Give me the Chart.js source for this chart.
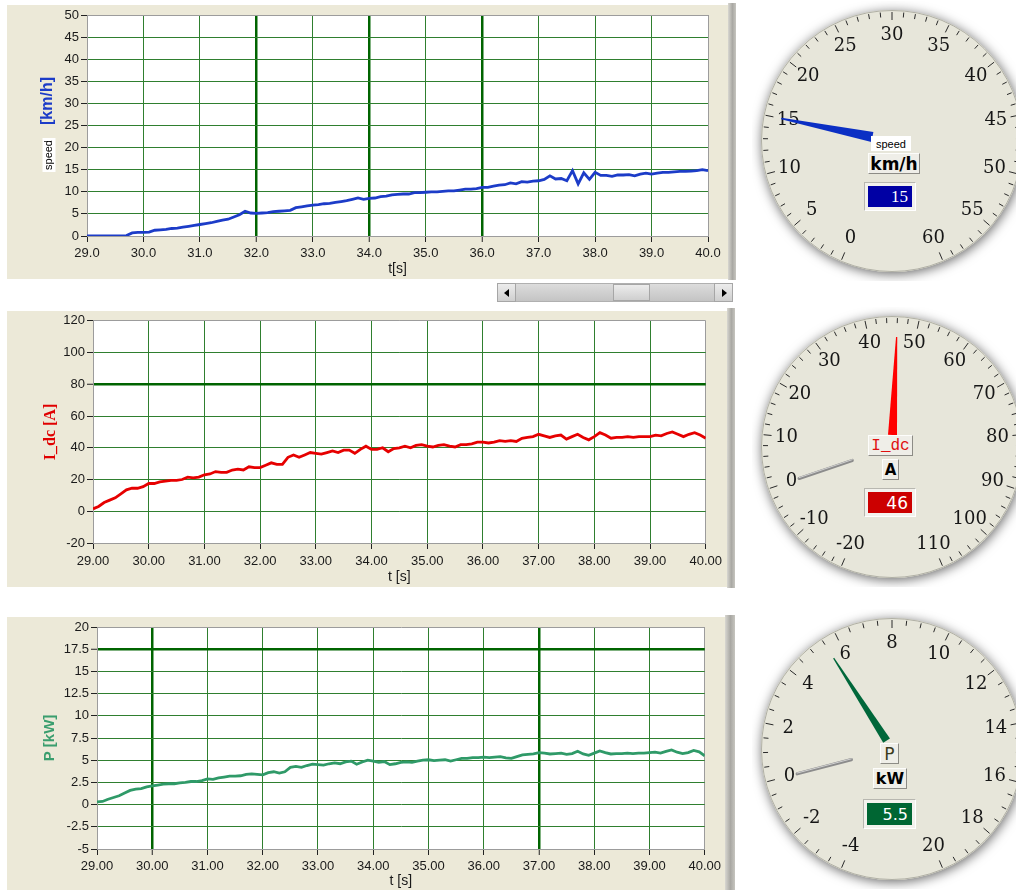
<!DOCTYPE html>
<html>
<head>
<meta charset="utf-8">
<title>Speed, current and power</title>
<script src="https://cdn.jsdelivr.net/npm/chart.js@4.4.1/dist/chart.umd.min.js"></script>
<style>
html,body{margin:0;padding:0;background:#fff;overflow:hidden;}
body{position:relative;width:1016px;height:890px;}
.abs{position:absolute;box-sizing:border-box;}
.panel{background:#ECE9D8;}
.strip{background:linear-gradient(to right,#d8d7d1,#a9a8a3 55%,#c6c5bf);}
canvas{position:absolute;}
.lbl{position:absolute;box-sizing:border-box;display:flex;align-items:center;justify-content:center;background:#EFEEE8;border:1px solid;border-color:#fdfdfb #8d8c86 #8d8c86 #fdfdfb;color:#000;line-height:1;}
.valout{position:absolute;box-sizing:border-box;background:#f3f2ed;border:1px solid;border-color:#b8b7b0 #fff #fff #b8b7b0;}
.valin{position:absolute;left:3px;top:3px;right:3px;bottom:3px;color:#fff;padding-right:4px;display:flex;align-items:center;justify-content:flex-end;line-height:1;}
.sbtn{background:linear-gradient(#ececec,#cfcfcf);border:1px solid #a6a6a6;}
</style>
</head>
<body>
<!-- panels -->
<div class="abs panel" style="left:7px;top:5px;width:721px;height:274px"></div>
<div class="abs strip" style="left:728px;top:3px;width:8px;height:277px"></div>
<div class="abs panel" style="left:7px;top:311px;width:720px;height:276px"></div>
<div class="abs strip" style="left:727px;top:308px;width:8px;height:280px"></div>
<div class="abs panel" style="left:7px;top:617px;width:718px;height:273px"></div>
<div class="abs strip" style="left:725px;top:615px;width:10px;height:275px"></div>

<!-- scrollbar -->
<div class="abs" style="left:497px;top:283px;width:236px;height:19px;background:linear-gradient(#dcdcdc,#c4c4c4);border:1px solid #b0b0b0"></div>
<div class="abs sbtn" style="left:497px;top:283px;width:19px;height:19px"><div class="abs" style="left:6px;top:5px;width:0;height:0;border-top:4px solid transparent;border-bottom:4px solid transparent;border-right:5px solid #000"></div></div>
<div class="abs sbtn" style="left:613px;top:284px;width:37px;height:17px"></div>
<div class="abs sbtn" style="left:714px;top:283px;width:19px;height:19px"><div class="abs" style="left:7px;top:5px;width:0;height:0;border-top:4px solid transparent;border-bottom:4px solid transparent;border-left:5px solid #000"></div></div>

<canvas id="c1" width="721" height="274" style="left:7px;top:5px"></canvas>
<canvas id="c2" width="720" height="276" style="left:7px;top:311px"></canvas>
<canvas id="c3" width="718" height="273" style="left:7px;top:617px"></canvas>

<canvas id="g1" width="280" height="280" style="left:752px;top:1px"></canvas>
<canvas id="g2" width="280" height="280" style="left:752px;top:307px"></canvas>
<canvas id="g3" width="280" height="280" style="left:752px;top:609px"></canvas>

<!-- gauge centre boxes -->
<div class="abs" id="g1name" style="left:871px;top:136px;width:40px;height:15px;background:#fff;font:11px 'Liberation Sans';display:flex;align-items:center;justify-content:center;color:#000"></div>
<div class="lbl" id="g1unit" style="left:868px;top:153px;width:52px;height:21px;font:bold 17px 'DejaVu Sans'"></div>
<div class="valout" style="left:864px;top:182px;width:52px;height:29px"><div class="valin" id="g1val" style="background:#0000a4;font:17px 'Liberation Serif'"></div></div>

<div class="lbl" id="g2name" style="left:868px;top:435px;width:45px;height:21px;font:16px 'Liberation Mono';color:#e01010"></div>
<div class="lbl" id="g2unit" style="left:882px;top:459px;width:17px;height:21px;font:bold 15px 'DejaVu Sans'"></div>
<div class="valout" style="left:864px;top:488px;width:52px;height:29px"><div class="valin" id="g2val" style="background:#cc0000;font:17px 'DejaVu Sans'"></div></div>

<div class="lbl" id="g3name" style="left:880px;top:743px;width:19px;height:21px;font:17px 'DejaVu Sans';color:#3b3b1e"></div>
<div class="lbl" id="g3unit" style="left:873px;top:768px;width:34px;height:21px;font:bold 16px 'DejaVu Sans'"></div>
<div class="valout" style="left:863px;top:799px;width:53px;height:30px"><div class="valin" id="g3val" style="background:#006633;font:16px 'DejaVu Sans'"></div></div>

<script>
// ---------------- data ----------------
const times = [
  29.0,29.1,29.2,29.3,29.4,29.5,29.6,29.7,29.8,29.9,
  30.0,30.1,30.2,30.3,30.4,30.5,30.6,30.7,30.8,30.9,
  31.0,31.1,31.2,31.3,31.4,31.5,31.6,31.7,31.8,31.9,
  32.0,32.1,32.2,32.3,32.4,32.5,32.6,32.7,32.8,32.9,
  33.0,33.1,33.2,33.3,33.4,33.5,33.6,33.7,33.8,33.9,
  34.0,34.1,34.2,34.3,34.4,34.5,34.6,34.7,34.8,34.9,
  35.0,35.1,35.2,35.3,35.4,35.5,35.6,35.7,35.8,35.9,
  36.0,36.1,36.2,36.3,36.4,36.5,36.6,36.7,36.8,36.9,
  37.0,37.1,37.2,37.3,37.4,37.5,37.6,37.7,37.8,37.9,
  38.0,38.1,38.2,38.3,38.4,38.5,38.6,38.7,38.8,38.9,
  39.0,39.1,39.2,39.3,39.4,39.5,39.6,39.7,39.8,39.9,
  40.0];

const speedKmh = [
  0,0,0,0,0,0,0,0.1,0.7,0.8,
  0.8,0.9,1.3,1.4,1.5,1.7,1.8,2.0,2.2,2.4,
  2.6,2.8,3.0,3.3,3.6,3.8,4.3,4.8,5.6,5.2,
  5.1,5.2,5.3,5.5,5.6,5.7,5.8,6.4,6.6,6.8,
  7.0,7.1,7.3,7.4,7.6,7.8,8.0,8.3,8.6,8.3,
  8.5,8.6,8.9,9.0,9.3,9.4,9.5,9.5,9.8,9.8,
  9.9,10.0,10.0,10.1,10.2,10.2,10.4,10.6,10.6,10.7,
  11.0,11.0,11.3,11.5,11.6,12.0,11.8,12.3,12.2,12.4,
  12.5,12.8,13.6,12.9,13.0,12.5,14.8,11.8,14.3,12.8,
  14.4,13.7,13.7,13.5,13.8,13.8,13.9,13.6,14.0,14.2,
  14.0,14.2,14.4,14.4,14.5,14.6,14.6,14.7,14.8,15.0,
  14.8];

const currentA = [
  1.5,3,5.5,7,8.5,11,13.5,14.5,14.5,15.5,
  17.5,17.5,18.5,19,19.5,19.5,20,21.5,21,21.5,
  23,23.5,25,24.5,24.5,26,26.5,26,28,27.5,
  27.5,29,30.5,29.5,29.5,34,35.5,34,35.5,37,
  36.5,36,37,38,37,38.5,38.5,36.5,39,41,
  39,39,40,37.5,39.5,40,41,40,41.5,42,
  41,40.5,41.5,42,41,40.5,42,42,42.5,43.5,
  43.5,43,43.5,44.5,44,44.5,44,46,46.5,47,
  48.5,47.5,46.5,47.5,48,45.5,47,48.5,46.5,45,
  47,49.5,48,46,46.5,46.5,47,46.5,47,47,
  47,48,47.5,49,50,48.5,47,48.5,49.5,48,
  46];

const powerKW = [
  0.3,0.35,0.6,0.8,1.0,1.3,1.6,1.75,1.8,2.0,
  2.1,2.2,2.3,2.35,2.35,2.45,2.5,2.6,2.6,2.7,
  2.9,2.85,3.0,3.1,3.2,3.2,3.25,3.4,3.45,3.4,
  3.35,3.6,3.7,3.55,3.7,4.2,4.3,4.2,4.4,4.55,
  4.5,4.45,4.6,4.7,4.6,4.8,4.9,4.55,4.8,5.0,
  4.9,4.75,4.85,4.5,4.6,4.75,4.8,4.75,4.9,5.0,
  5.05,4.95,5.0,5.05,4.9,5.05,5.2,5.2,5.3,5.3,
  5.35,5.3,5.35,5.4,5.25,5.2,5.4,5.6,5.65,5.7,
  5.85,5.8,5.7,5.75,5.8,5.65,5.75,6.0,5.7,5.55,
  5.8,6.05,5.85,5.7,5.75,5.75,5.8,5.75,5.8,5.8,
  5.85,5.9,5.8,6.0,6.15,5.9,5.75,5.85,6.1,5.95,
  5.5];

// gauges
const gaugeNames  = ['speed', 'I_dc', 'P'];
const gaugeUnits  = ['km/h', 'A', 'kW'];
const gaugeMin    = [0, -20, -4];
const gaugeMax    = [60, 110, 20];
const gaugeMajor  = [5, 10, 2];
const gaugeMinor  = [1, 2, 0.5];
const gaugeValue  = [15, 46, 5.5];
const gaugeValueText = ['15', '46', '5.5'];
const gaugeSecond = [null, 0, 0];

// ---------------- styles ----------------
const TICK_FONT = {family: "'Liberation Sans', Arial, sans-serif", size: 13};
const GRID = '#2f7f2f', GRID_HEAVY = '#006400', EDGE = '#9c9c9c';
const FACE = '#E7E6DA';
const SWEEP_DEG = 314;
const needleColor = ['#0b2fc4', '#ff0000', '#00673a'];
const needleGeom = [[20, 113, 5, 0.8], [12, 110, 4.5, 0.6], [10, 108, 4, 0.6]];

const plotBg = {
  id: 'plotbg',
  beforeDraw(chart) {
    const {ctx, chartArea: a} = chart;
    ctx.save(); ctx.fillStyle = '#fff';
    ctx.fillRect(a.left, a.top, a.right - a.left, a.bottom - a.top);
    ctx.restore();
  }
};

function yTitles(items) {
  return {
    id: 'ytitles',
    afterDraw(chart) {
      const ctx = chart.ctx;
      items.forEach(it => {
        ctx.save();
        ctx.translate(it.x, it.y); ctx.rotate(-Math.PI / 2);
        ctx.font = it.font; ctx.textAlign = 'center'; ctx.textBaseline = 'middle';
        if (it.bg) {
          const w = ctx.measureText(it.text).width;
          ctx.fillStyle = it.bg; ctx.fillRect(-w / 2 - 2, -6.5, w + 4, 13);
        }
        ctx.fillStyle = it.color; ctx.fillText(it.text, 0, 0);
        ctx.restore();
      });
    }
  };
}

const near = (a, b) => Math.abs(a - b) < 1e-9;

function makeLine(id, values, c) {
  const gridFn = (heavy, lo, hi) => ctx => {
    const v = ctx.tick ? ctx.tick.value : NaN;
    if (near(v, lo) || near(v, hi)) return EDGE;
    return heavy.some(h => near(h, v)) ? GRID_HEAVY : GRID;
  };
  const widthFn = (heavy) => ctx => {
    const v = ctx.tick ? ctx.tick.value : NaN;
    return heavy.some(h => near(h, v)) ? 2.5 : 1;
  };
  return new Chart(document.getElementById(id), {
    type: 'line',
    data: {
      datasets: [{
        data: values.map((y, i) => ({x: times[i], y})),
        borderColor: c.color, borderWidth: 2.8, pointRadius: 0, tension: 0, fill: false
      }]
    },
    options: {
      responsive: false, animation: false, events: [],
      layout: {padding: {left: 0, right: c.padRight, top: c.padTop, bottom: 0}},
      plugins: {legend: {display: false}, tooltip: {enabled: false}},
      scales: {
        x: {
          type: 'linear', min: 29, max: 40,
          afterFit: s => { s.height = c.xH; },
          ticks: {stepSize: 1, autoSkip: false, maxRotation: 0, padding: c.xPad,
                  font: TICK_FONT, color: '#1a1a1a', callback: v => v.toFixed(c.xDec)},
          grid: {color: gridFn(c.heavyX, 29, 40), lineWidth: widthFn(c.heavyX),
                 tickColor: '#222', tickWidth: 1, tickLength: 6},
          border: {display: true, color: EDGE, width: 1},
          title: {display: true, text: c.xTitle, color: '#1a1a1a',
                  font: {family: "'Liberation Sans', Arial, sans-serif", size: 14},
                  padding: {top: 0, bottom: c.titlePad}}
        },
        y: {
          type: 'linear', min: c.yMin, max: c.yMax,
          afterFit: s => { s.width = c.yW; },
          ticks: {stepSize: c.yStep, autoSkip: false, padding: 2,
                  font: TICK_FONT, color: '#1a1a1a', callback: v => String(v)},
          grid: {color: gridFn(c.heavyY, c.yMin, c.yMax), lineWidth: widthFn(c.heavyY),
                 tickColor: '#222', tickWidth: 1, tickLength: 6},
          border: {display: true, color: EDGE, width: 1}
        }
      }
    },
    plugins: [plotBg, yTitles(c.yTitles)]
  });
}

makeLine('c1', speedKmh, {
  color: '#1c3cc8', padRight: 20, padTop: 10, xH: 43, yW: 80, xPad: 4, xDec: 1,
  yMin: 0, yMax: 50, yStep: 5, heavyX: [32, 34, 36], heavyY: [],
  xTitle: 't[s]', titlePad: 1.6,
  yTitles: [
    {text: '[km/h]', x: 41, y: 96, font: "bold 16px 'Liberation Sans'", color: '#1c3cc8'},
    {text: 'speed', x: 42, y: 150, font: "11px 'Liberation Sans'", color: '#000', bg: '#fff'}
  ]
});
makeLine('c2', currentA, {
  color: '#e60000', padRight: 19, padTop: 9, xH: 44, yW: 86, xPad: 5, xDec: 2,
  yMin: -20, yMax: 120, yStep: 20, heavyX: [], heavyY: [80],
  xTitle: 't [s]', titlePad: 1.6,
  yTitles: [
    {text: 'I_dc [A]', x: 44, y: 121, font: "bold 16px 'Liberation Serif'", color: '#e00000'}
  ]
});
makeLine('c3', powerKW, {
  color: '#2f9a68', padRight: 17, padTop: 10, xH: 41, yW: 90, xPad: 4, xDec: 2,
  yMin: -5, yMax: 20, yStep: 2.5, heavyX: [30, 37], heavyY: [17.5],
  xTitle: 't [s]', titlePad: 0,
  yTitles: [
    {text: 'P [kW]', x: 43, y: 121, font: "bold 15px 'Liberation Sans'", color: '#3a9e6e'}
  ]
});

// ---------------- gauges ----------------
function wedge(ctx, cx, cy, a, r0, r1, w0, w1, color) {
  const c = Math.cos(a), s = Math.sin(a), px = -s, py = c;
  ctx.beginPath();
  ctx.moveTo(cx + c * r0 + px * w0, cy + s * r0 + py * w0);
  ctx.lineTo(cx + c * r1 + px * w1, cy + s * r1 + py * w1);
  ctx.lineTo(cx + c * r1 - px * w1, cy + s * r1 - py * w1);
  ctx.lineTo(cx + c * r0 - px * w0, cy + s * r0 - py * w0);
  ctx.closePath(); ctx.fillStyle = color; ctx.fill();
}

function dialPlugin(gi) {
  return {
    id: 'dial' + gi,
    beforeDatasetsDraw(chart) {
      const f = chart.getDatasetMeta(0).data[0];
      const ctx = chart.ctx;
      ctx.save();
      ctx.shadowColor = 'rgba(0,0,0,0.6)';
      ctx.shadowBlur = 12; ctx.shadowOffsetX = 1; ctx.shadowOffsetY = 2;
      ctx.beginPath(); ctx.arc(f.x, f.y, f.outerRadius, 0, Math.PI * 2);
      ctx.fillStyle = FACE; ctx.fill();
      ctx.restore();
    },
    afterDatasetsDraw(chart) {
      const ctx = chart.ctx;
      const f = chart.getDatasetMeta(0).data[0];
      const cx = f.x, cy = f.y, R = f.outerRadius;
      const m = chart.getDatasetMeta(1).data;
      const a0 = m[0].startAngle, a1 = m[1].endAngle;
      const lo = gaugeMin[gi], hi = gaugeMax[gi];
      const ang = v => a0 + (v - lo) / (hi - lo) * (a1 - a0);
      ctx.save();
      // rim
      ctx.beginPath(); ctx.arc(cx, cy, R - 0.5, 0, Math.PI * 2);
      ctx.strokeStyle = 'rgba(140,140,130,0.6)'; ctx.lineWidth = 1; ctx.stroke();
      // ticks
      const n = Math.round((hi - lo) / gaugeMinor[gi]);
      const perMajor = Math.round(gaugeMajor[gi] / gaugeMinor[gi]);
      ctx.strokeStyle = '#2a2a2a'; ctx.lineWidth = 1;
      for (let k = 0; k <= n; k++) {
        const v = lo + k * gaugeMinor[gi];
        const a = ang(v), major = k % perMajor === 0;
        const r1 = R - 2, r0 = R - (major ? 10 : 7);
        ctx.beginPath();
        ctx.moveTo(cx + Math.cos(a) * r0, cy + Math.sin(a) * r0);
        ctx.lineTo(cx + Math.cos(a) * r1, cy + Math.sin(a) * r1);
        ctx.stroke();
      }
      // labels
      ctx.font = "18px 'DejaVu Serif'"; ctx.fillStyle = '#161616';
      ctx.textAlign = 'center'; ctx.textBaseline = 'middle';
      for (let k = 0; k <= n; k += perMajor) {
        const v = lo + k * gaugeMinor[gi];
        const a = ang(v);
        const txt = String(Math.round(v * 100) / 100);
        ctx.fillText(txt, cx + Math.cos(a) * 106, cy + Math.sin(a) * 106);
      }
      // secondary (grey) needle
      if (gaugeSecond[gi] !== null) {
        const a2 = chart.getDatasetMeta(2).data[0].endAngle;
        const c = Math.cos(a2), s = Math.sin(a2);
        ctx.lineCap = 'round';
        ctx.strokeStyle = '#8c8c8c'; ctx.lineWidth = 3.2;
        ctx.beginPath(); ctx.moveTo(cx + c * 42, cy + s * 42); ctx.lineTo(cx + c * 98, cy + s * 98); ctx.stroke();
        ctx.strokeStyle = '#d2d2d2'; ctx.lineWidth = 1;
        ctx.beginPath(); ctx.moveTo(cx + c * 42, cy + s * 42 - 0.8); ctx.lineTo(cx + c * 98, cy + s * 98 - 0.8); ctx.stroke();
      }
      // main needle
      const an = m[0].endAngle;
      const g = needleGeom[gi];
      wedge(ctx, cx, cy, an, g[0], g[1], g[2], g[3], needleColor[gi]);
      ctx.restore();
    }
  };
}

function makeGauge(id, gi) {
  const lo = gaugeMin[gi], hi = gaugeMax[gi];
  const gap = (hi - lo) * (360 - SWEEP_DEG) / SWEEP_DEG;
  const datasets = [
    {data: [1], backgroundColor: [FACE], borderWidth: 0, weight: 1},
    {data: [gaugeValue[gi] - lo, hi - gaugeValue[gi], gap], backgroundColor: 'rgba(0,0,0,0)', borderWidth: 0, weight: 0}
  ];
  if (gaugeSecond[gi] !== null) {
    datasets.push({data: [gaugeSecond[gi] - lo, hi - gaugeSecond[gi], gap], backgroundColor: 'rgba(0,0,0,0)', borderWidth: 0, weight: 0});
  }
  new Chart(document.getElementById(id), {
    type: 'doughnut',
    data: {labels: ['value', 'rest', 'gap'], datasets},
    options: {
      responsive: false, animation: false, events: [],
      // scale starts at the lower-left, leaving a symmetric gap at the bottom
      rotation: 180 + (360 - SWEEP_DEG) / 2,
      circumference: 360, cutout: 0, radius: 131,
      layout: {padding: 0},
      plugins: {legend: {display: false}, tooltip: {enabled: false}}
    },
    plugins: [dialPlugin(gi)]
  });
  const k = gi + 1;
  document.getElementById('g' + k + 'name').textContent = gaugeNames[gi];
  document.getElementById('g' + k + 'unit').textContent = gaugeUnits[gi];
  document.getElementById('g' + k + 'val').textContent = gaugeValueText[gi];
}
makeGauge('g1', 0);
makeGauge('g2', 1);
makeGauge('g3', 2);
</script>
</body>
</html>
